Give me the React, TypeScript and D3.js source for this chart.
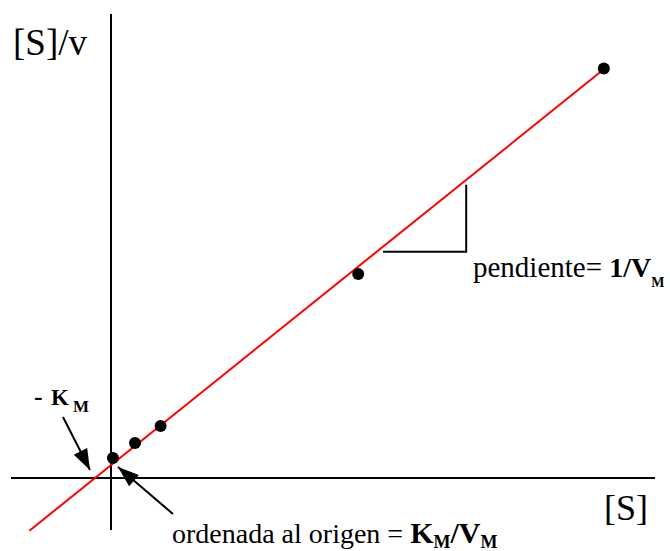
import * as d3 from 'd3';

// Hanes-Woolf plot: [S]/v vs [S]
const sValues = [0.12, 1.5, 3.1, 15.45, 30.8];
const ratioValues = [1.25, 2.19, 3.25, 12.75, 25.6];
const kmValue = 1;
const vmValue = 1.245;
const fitRange = [-5.1, 30.8];

const W = 670, H = 551;
const font = 'Liberation Serif';

function arrowHead(x1: number, y1: number, x2: number, y2: number, len = 21, half = 7.5) {
  const a = Math.atan2(y2 - y1, x2 - x1);
  const bx = x2 - len * Math.cos(a), by = y2 - len * Math.sin(a);
  const px = -Math.sin(a) * half, py = Math.cos(a) * half;
  return `${x2},${y2} ${bx + px},${by + py} ${bx - px},${by - py}`;
}

export default function App() {
  const x = d3.scaleLinear().domain([-6, 34]).range([15, 655]);
  const y = d3.scaleLinear().domain([-3, 29]).range([526, 14]);
  const fit = (s: number) => (kmValue + s) / vmValue;

  const line = d3.line<number>().x(d => x(d)).y(d => y(fit(d)));
  const pts = sValues.map((s, i) => ({ s, r: ratioValues[i] }));

  // slope triangle under the fit line
  const triL = 17, triR = 22.2;
  const triY = y(fit(triL)) + 5;
  const triTop = y(fit(triR)) + 5;

  const a1 = [63, 417, 90, 470];
  const a2 = [173, 514, 118, 467];

  return (
    <svg width={W} height={H} style={{ position: 'absolute', left: 0, top: 0, background: '#fff' }}>
      {/* axes */}
      <line x1={x(0)} x2={x(0)} y1={y(-3.25)} y2={y(29)} stroke="#000" strokeWidth={2} />
      <line x1={x(-6.25)} x2={x(34)} y1={y(0)} y2={y(0)} stroke="#000" strokeWidth={2} />

      {/* fitted line */}
      <path d={line(fitRange) || ''} stroke="#ff0000" strokeWidth={2} fill="none" />

      {pts.map((p, i) => (
        <circle key={i} cx={x(p.s)} cy={y(p.r)} r={6} fill="#000" />
      ))}

      {/* slope triangle */}
      <polyline
        points={`${x(triL)},${triY} ${x(triR)},${triY} ${x(triR)},${triTop}`}
        fill="none" stroke="#000" strokeWidth={2}
      />

      {/* arrows */}
      <line x1={a1[0]} y1={a1[1]} x2={a1[2]} y2={a1[3]} stroke="#000" strokeWidth={2} />
      <polygon points={arrowHead(a1[0], a1[1], a1[2], a1[3])} fill="#000" />
      <line x1={a2[0]} y1={a2[1]} x2={a2[2]} y2={a2[3]} stroke="#000" strokeWidth={2} />
      <polygon points={arrowHead(a2[0], a2[1], a2[2], a2[3])} fill="#000" />

      <text fontFamily={font} fontSize={38} x={13} y={55} textLength={74} lengthAdjust="spacingAndGlyphs">[S]/v</text>
      <text fontFamily={font} fontSize={36} x={604} y={520}>[S]</text>

      <text fontFamily={font} fontSize={26} fontWeight="bold" x={34} y={405}>-</text>
      <text fontFamily={font} fontSize={23} fontWeight="bold" x={51} y={405}>K</text>
      <text fontFamily={font} fontSize={17} fontWeight="bold" x={73} y={412}>M</text>

      <text fontFamily={font} fontSize={29} x={473} y={277}>
        pendiente= <tspan fontWeight="bold" fontSize={28}>1/V</tspan>
        <tspan fontWeight="bold" fontSize={14} dy={10}>M</tspan>
      </text>

      <text fontFamily={font} fontSize={28} x={172} y={543}>
        ordenada al origen = <tspan fontWeight="bold" fontSize={30}>K</tspan>
        <tspan fontWeight="bold" fontSize={18} dy={5}>M</tspan>
        <tspan fontWeight="bold" fontSize={30} dy={-5}>/V</tspan>
        <tspan fontWeight="bold" fontSize={18} dy={5}>M</tspan>
      </text>
    </svg>
  );
}
